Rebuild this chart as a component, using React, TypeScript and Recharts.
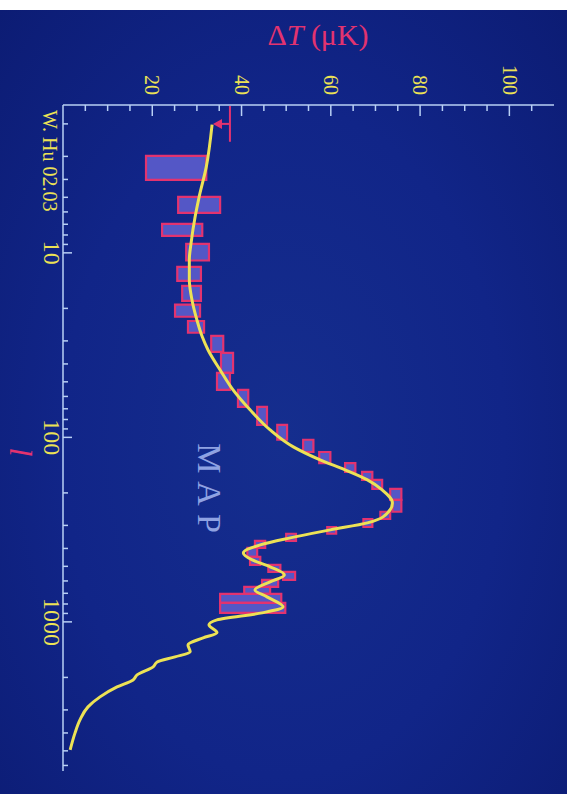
import React from 'react';
import { ComposedChart, XAxis, YAxis, Line, Scatter, ReferenceArea, ReferenceLine } from 'recharts';

// WMAP band powers: multipole range of each bin and the ΔT error box (μK)
const binLo = [2.98, 4.97, 6.96, 8.94, 11.9, 15.1, 19.1, 23.4, 28.2, 34.8, 44.7, 55.3, 68.3, 85.6, 103, 120, 138, 154, 170, 190, 218, 253, 277, 306, 333, 364, 397, 444, 491, 536, 592, 646, 705, 789];
const binHi = [4.02, 6.07, 8.09, 11.0, 14.2, 18.2, 22.2, 27.1, 34.4, 44.7, 55.3, 68.3, 85.6, 103, 120, 138, 154, 170, 190, 218, 253, 277, 306, 333, 364, 397, 444, 491, 536, 592, 646, 705, 789, 894];
const binTLo = [18.6, 25.8, 22.2, 27.6, 25.6, 26.7, 25.1, 28.0, 33.2, 35.4, 34.5, 39.2, 43.5, 48.0, 53.8, 57.4, 63.2, 67.0, 69.3, 73.3, 73.8, 71.1, 67.3, 59.2, 50.0, 43.0, 41.3, 41.9, 46.0, 49.3, 44.6, 40.6, 35.2, 35.2];
const binTHi = [32.1, 35.2, 31.2, 32.7, 30.9, 30.9, 30.7, 31.6, 35.9, 38.1, 37.4, 41.5, 45.7, 50.2, 56.1, 59.9, 65.5, 69.3, 71.5, 75.8, 75.8, 73.3, 69.3, 61.2, 52.2, 45.3, 43.5, 44.2, 48.7, 52.0, 48.2, 46.4, 48.9, 49.8];

// model curve (yellow)
const modelL = [2.02, 3.42, 4.97, 6.38, 8.83, 10.9, 14.0, 18.0, 23.1, 28.5, 33.6, 43.1, 55.3, 70.9, 91.1, 112.6, 132.4, 150.1, 170.0, 192.6, 226.5, 269.7, 290.6, 317.2, 350.5, 382.5, 422.7, 461.3, 503.3, 556.4, 607.1, 670.8, 732.0, 829.0, 893.7, 975.4, 1038, 1147, 1221, 1333, 1454, 1548, 1648, 1754, 1938, 2063, 2251, 2550, 2888, 3399, 3995, 4941];
const modelT = [33.4, 32.1, 30.5, 29.6, 28.7, 28.3, 28.3, 28.9, 30.0, 31.2, 32.5, 35.2, 38.1, 41.9, 46.4, 51.6, 57.6, 63.2, 68.2, 71.5, 73.8, 71.7, 68.2, 59.9, 50.9, 44.2, 40.4, 42.4, 46.4, 49.6, 46.4, 43.0, 45.7, 49.3, 44.6, 34.5, 32.7, 34.5, 31.4, 28.0, 28.5, 25.1, 21.1, 20.2, 16.6, 15.7, 12.1, 8.3, 5.6, 3.8, 2.7, 1.6];

// quadrupole point: cap and arrow tip
const quadL = 2;
const quadCapLo = 1.6;
const quadCapHi = 2.5;
const quadCapT = 37.4;
const quadTipT = 33.6;

const lTicks = [2, 3, 4, 5, 6, 7, 8, 9, 10, 20, 30, 40, 50, 60, 70, 80, 90, 100, 200, 300, 400, 500, 600, 700, 800, 900, 1000, 2000, 3000, 4000, 5000, 6000];
const lLabels = [10, 100, 1000];
const tTicks = [5, 10, 15, 20, 25, 30, 35, 40, 45, 50, 55, 60, 65, 70, 75, 80, 85, 90, 95, 100, 105];
const tLabels = [20, 40, 60, 80, 100];

const curveData = modelL.map((l, i) => ({ l, t: modelT[i] }));
const tipData = [{ l: quadL, t: quadTipT }];

const FRAME = '#b9d0f5';
const YELLOW = '#ece255';
const RED = '#e3336f';
const SERIF = '"Liberation Serif", "Times New Roman", serif';

const LTick = (props: any) => {
  const { x, y, payload, side } = props;
  const v = payload.value;
  const major = lLabels.includes(v);
  const len = major ? 9 : 5;
  const dir = side === 'bottom' ? -1 : 1;
  return (
    <g>
      <line x1={x} y1={y} x2={x} y2={y + dir * len} stroke={FRAME} strokeWidth={1.5} />
      {side === 'bottom' && major && (
        <text x={x} y={y + 19} textAnchor="middle" fill={YELLOW} fontSize={24} fontFamily={SERIF}>
          {v}
        </text>
      )}
    </g>
  );
};

const TTick = (props: any) => {
  const { x, y, payload, side } = props;
  const v = payload.value;
  const major = tLabels.includes(v);
  const len = major ? 11 : 6;
  const dir = side === 'left' ? 1 : -1;
  return (
    <g>
      <line x1={x} y1={y} x2={x + dir * len} y2={y} stroke={FRAME} strokeWidth={1.5} />
      {side === 'left' && major && (
        <text x={x - 10} y={y} dy="0.34em" textAnchor="end" fill={YELLOW} fontSize={20} fontFamily={SERIF}>
          {v}
        </text>
      )}
    </g>
  );
};

const ArrowTip = (props: any) => {
  const { cx, cy } = props;
  return <path d={`M${cx},${cy} L${cx - 5},${cy - 9} L${cx + 5},${cy - 9} Z`} fill={RED} />;
};

// chart is drawn landscape and turned a quarter clockwise, like the scan
const W = 794;
const H = 576;

export default function App() {
  return (
    <div style={{ position: 'absolute', left: 0, top: 0, width: 576, height: 794, overflow: 'hidden', background: '#fff' }}>
      <div
        style={{
          position: 'absolute',
          left: 0,
          top: 0,
          width: W,
          height: H,
          transformOrigin: '0 0',
          transform: 'translate(576px, 0) rotate(90deg)',
        }}
      >
        <div
          style={{
            position: 'absolute',
            left: 10,
            top: 9,
            width: W - 10,
            height: H - 9,
            background: 'radial-gradient(ellipse at 55% 50%, #152e8e 0%, #112588 55%, #0c1c74 100%)',
          }}
        />
        <div style={{ position: 'absolute', left: 0, top: 0 }}>
          <ComposedChart width={W} height={H} margin={{ top: 22, right: 23, bottom: 0, left: 0 }}>
            <XAxis
              xAxisId="l"
              dataKey="l"
              type="number"
              scale="log"
              domain={[1.58, 6430]}
              allowDataOverflow
              ticks={lTicks}
              interval={0}
              orientation="bottom"
              height={63}
              tickSize={0}
              tickMargin={0}
              tickLine={false}
              axisLine={{ stroke: FRAME, strokeWidth: 1.5 }}
              tick={<LTick side="bottom" />}
            />
            <XAxis
              xAxisId="lTop"
              dataKey="l"
              type="number"
              scale="log"
              domain={[1.58, 6430]}
              allowDataOverflow
              ticks={lTicks}
              interval={0}
              orientation="top"
              height={0}
              tickSize={0}
              tickMargin={0}
              tickLine={false}
              axisLine={{ stroke: FRAME, strokeWidth: 1.5 }}
              tick={<LTick side="top" />}
            />
            <YAxis
              yAxisId="t"
              type="number"
              domain={[0, 110]}
              allowDataOverflow
              ticks={tTicks}
              interval={0}
              orientation="left"
              width={105}
              tickSize={0}
              tickMargin={0}
              tickLine={false}
              axisLine={{ stroke: FRAME, strokeWidth: 1.5 }}
              tick={<TTick side="left" />}
            />
            <YAxis
              yAxisId="tRight"
              type="number"
              domain={[0, 110]}
              allowDataOverflow
              ticks={tTicks}
              interval={0}
              orientation="right"
              width={0}
              tickSize={0}
              tickMargin={0}
              tickLine={false}
              axisLine={{ stroke: FRAME, strokeWidth: 1.5 }}
              tick={<TTick side="right" />}
            />
            {binLo.map((lo, i) => (
              <ReferenceArea
                key={i}
                xAxisId="l"
                yAxisId="t"
                x1={lo}
                x2={binHi[i]}
                y1={binTLo[i]}
                y2={binTHi[i]}
                fill="#5457c6"
                fillOpacity={1}
                stroke={RED}
                strokeWidth={2.2}
              />
            ))}
            <ReferenceLine
              xAxisId="l"
              yAxisId="t"
              segment={[{ x: quadCapLo, y: quadCapT }, { x: quadCapHi, y: quadCapT }]}
              stroke={RED}
              strokeWidth={2}
            />
            <ReferenceLine
              xAxisId="l"
              yAxisId="t"
              segment={[{ x: quadL, y: quadCapT }, { x: quadL, y: quadTipT + 1.5 }]}
              stroke={RED}
              strokeWidth={2}
            />
            <Line
              xAxisId="l"
              yAxisId="t"
              data={curveData}
              dataKey="t"
              type="monotone"
              stroke={YELLOW}
              strokeWidth={3}
              dot={false}
              isAnimationActive={false}
            />
            <Scatter
              xAxisId="l"
              yAxisId="t"
              data={tipData}
              dataKey="t"
              shape={<ArrowTip />}
              isAnimationActive={false}
            />
          </ComposedChart>
        </div>
        <svg width={W} height={H} style={{ position: 'absolute', left: 0, top: 0, pointerEvents: 'none' }}>
          <text
            x={45}
            y={258}
            transform="rotate(-90, 45, 258)"
            textAnchor="middle"
            fill={RED}
            fontSize={30}
            fontFamily={SERIF}
          >
            Δ<tspan fontStyle="italic">T</tspan> (μK)
          </text>
          <text x={452} y={566} textAnchor="middle" fill={RED} fontSize={32} fontStyle="italic" fontFamily={SERIF}>
            l
          </text>
          <text x={110} y={533} fill={YELLOW} fontSize={20} fontFamily={SERIF}>
            W. Hu 02.03
          </text>
          <text x={492} y={378} textAnchor="middle" fill="#8fa2e2" fontSize={34} letterSpacing={8} fontFamily={SERIF}>
            MAP
          </text>
        </svg>
      </div>
    </div>
  );
}
